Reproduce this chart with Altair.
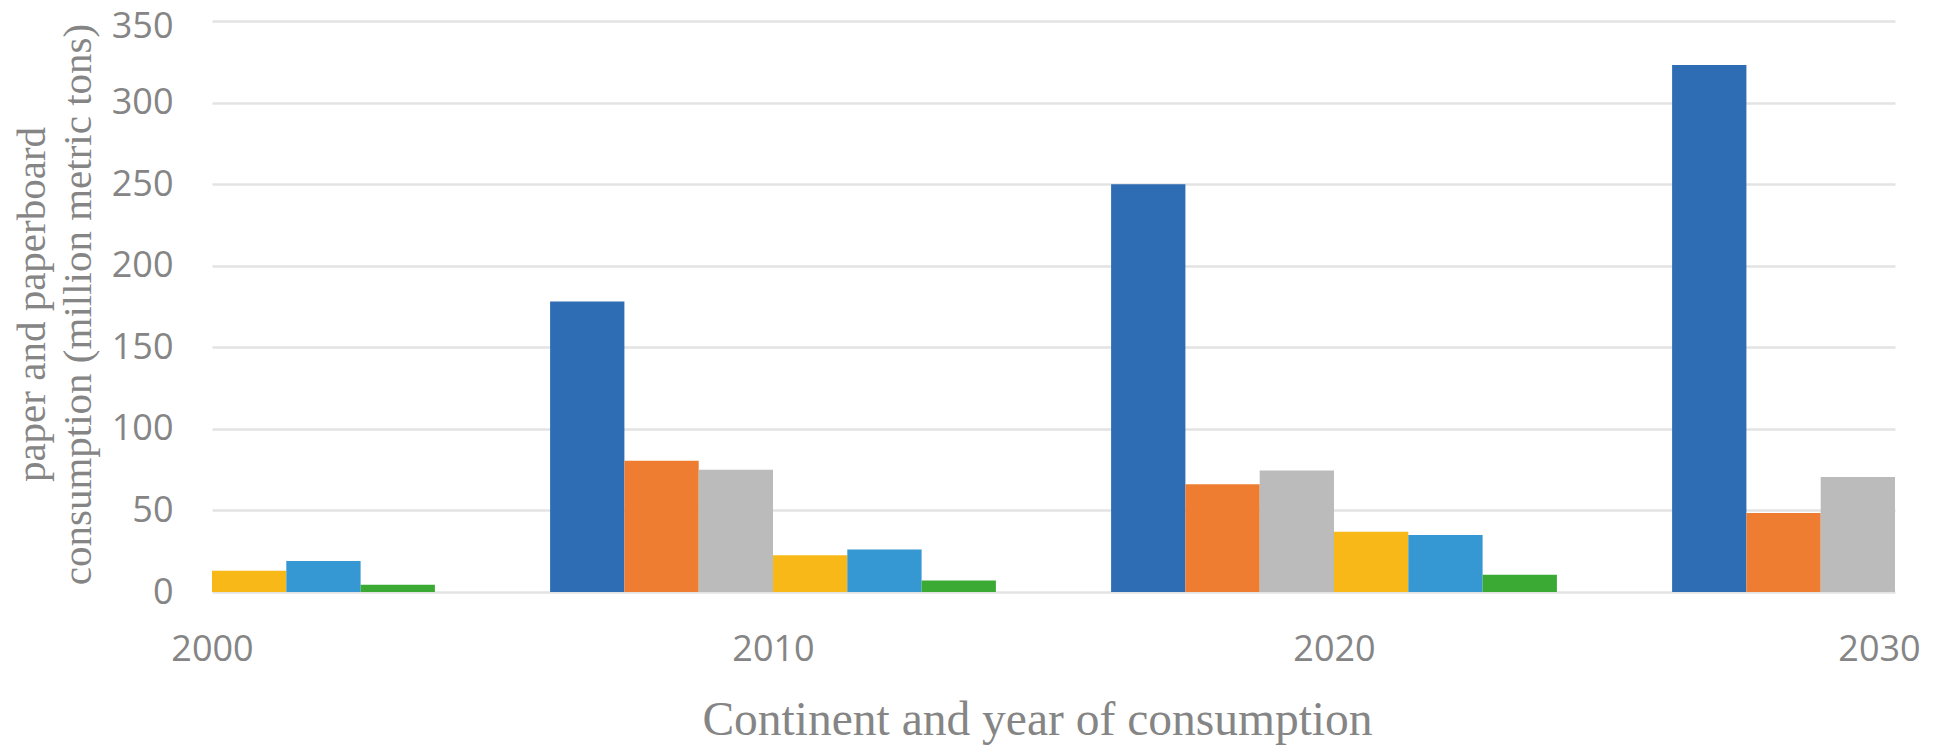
import altair as alt
import pandas as pd

# ---- data ----
years = [2000, 2010, 2020, 2030]
series = ["Asia", "Europe", "North America", "Latin America", "Africa", "Oceania"]
asia = [None, 178, 250, 323]
europe = [None, 80.5, 66, 48.5]
north_america = [None, 75, 74.5, 70.5]
latin_america = [13, 22.5, 37, 49]
africa = [19, 26, 35, None]
oceania = [4.5, 7, 10.5, None]
colors = ["#2E6DB4", "#EE7C31", "#BBBBBB", "#F8B817", "#3598D3", "#3BAA35"]
y_ticks = [0, 50, 100, 150, 200, 250, 300, 350]

values_by_series = [asia, europe, north_america, latin_america, africa, oceania]
rows = []
for idx, (name, vals) in enumerate(zip(series, values_by_series)):
    for yr, v in zip(years, vals):
        if v is not None:
            rows.append({"year": yr, "series": name, "idx": idx, "value": v})
df = pd.DataFrame(rows)

bar_w = 10 * 74.3 / 561.0  # width of one bar, in years

grey = "#858585"

chart = (
    alt.Chart(df)
    .transform_calculate(
        x0=f"datum.year + (datum.idx - 3) * {bar_w}",
        x1=f"datum.year + (datum.idx - 2) * {bar_w}",
    )
    .mark_bar(clip=True)
    .encode(
        x=alt.X(
            "x0:Q",
            scale=alt.Scale(domain=[2000, 2030], nice=False, zero=False),
            axis=alt.Axis(
                values=years,
                format="d",
                grid=False,
                domain=False,
                ticks=False,
                tickSize=0,
                labelFlush=False,
                labelFont="Open Sans",
                labelFontSize=36,
                labelColor=grey,
                labelPadding=40,
                labelOffset=alt.condition("datum.value == 2030", alt.value(-16), alt.value(0)),
                title="Continent and year of consumption",
                titleFont="Liberation Serif",
                titleFontSize=47.5,
                titleFontWeight="normal",
                titleColor=grey,
                titleX=825,
                titleY=104,
                titleBaseline="top",
                titleAlign="center",
            ),
        ),
        x2="x1:Q",
        y=alt.Y(
            "value:Q",
            scale=alt.Scale(domain=[0, 350], nice=False),
            axis=alt.Axis(
                values=y_ticks,
                grid=True,
                gridColor="#e3e3e3",
                gridWidth=2.5,
                domain=False,
                ticks=False,
                tickSize=0,
                labelFlush=False,
                labelFont="Open Sans",
                labelFontSize=36,
                labelColor=grey,
                labelPadding=39,
                labelOffset=alt.condition("datum.value == 350", alt.value(5), alt.value(0)),
                title=["paper and paperboard", "consumption (million metric tons)"],
                titleFont="Liberation Serif",
                titleFontSize=41,
                titleFontWeight="normal",
                titleColor=grey,
                titleLineHeight=46,
                titleAngle=270,
                titleX=-200,
                titleY=283,
                titleBaseline="top",
                titleAlign="center",
            ),
        ),
        y2=alt.datum(0),
        color=alt.Color(
            "series:N",
            scale=alt.Scale(domain=series, range=colors),
            legend=None,
        ),
    )
    .properties(
        width=1683,
        height=571,
        autosize=alt.AutoSizeParams(type="none"),
        padding={"left": 204, "top": 13, "right": 39, "bottom": 155},
        background="white",
    )
    .configure_view(stroke=None)
)

chart.save("out.html", embed_options={"renderer": "svg", "actions": False})
